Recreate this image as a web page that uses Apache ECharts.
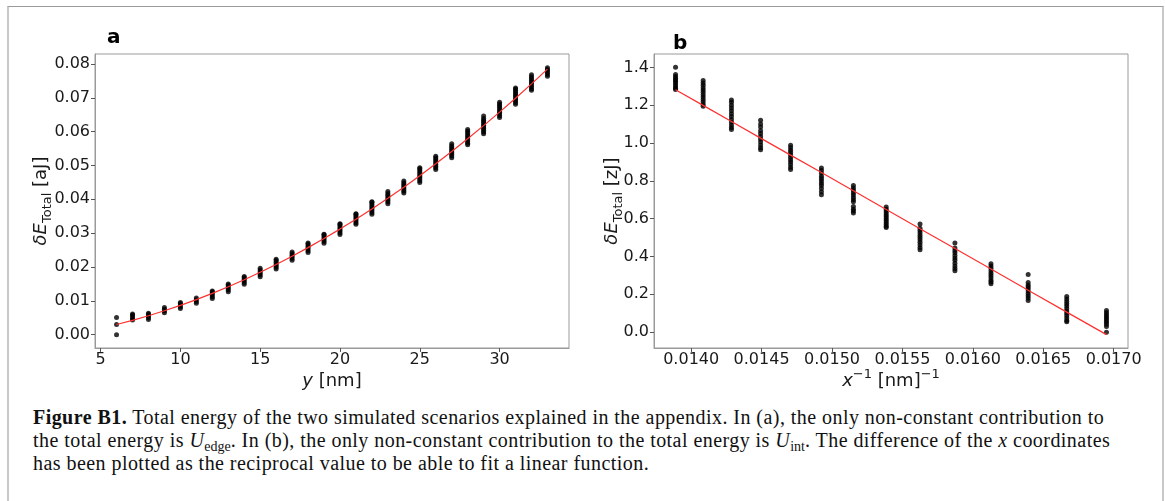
<!DOCTYPE html>
<html>
<head>
<meta charset="utf-8">
<script src="https://cdn.jsdelivr.net/npm/echarts@6/dist/echarts.min.js"></script>
<style>
  html, body { margin: 0; padding: 0; background: #fff; }
  #wrap { position: relative; width: 1165px; height: 501px; overflow: hidden; }
  #frame { position: absolute; left: 7px; top: 6px; width: 1153px; height: 520px;
           border-top: 1px solid #9a9a9a; border-left: 2px solid #c8c8c8; border-right: 2px solid #c8c8c8; }
  #chart { position: absolute; left: 0; top: 0; width: 1165px; height: 400px; }
  #caption { position: absolute; left: 33px; top: 406px; width: 1125px;
             font-family: "Liberation Serif", "DejaVu Serif", serif; font-size: 20px; line-height: 23px;
             letter-spacing: 0.45px; color: #111; white-space: nowrap; }
  #caption b { font-weight: bold; }
  #caption sub { font-size: 14px; vertical-align: -4px; line-height: 0; letter-spacing: 0; }
</style>
</head>
<body>
<div id="wrap">
  <div id="frame"></div>
  <div id="chart"></div>
  <div id="caption"><b>Figure B1.</b> Total energy of the two simulated scenarios explained in the appendix. In (a), the only non-constant contribution to<br>the total energy is <i>U</i><sub>edge</sub>. In (b), the only non-constant contribution to the total energy is <i>U</i><sub>int</sub>. The difference of the <i>x</i> coordinates<br>has been plotted as the reciprocal value to be able to fit a linear function.</div>
</div>
<script>
// ---------- Panel a data ----------
const aX = [6,7,8,9,10,11,12,13,14,15,16,17,18,19,20,21,22,23,24,25,26,27,28,29,30,31,32,33];
const aPoints = [
  [0.0000,0.0030,0.0051],
  [0.0043,0.0048,0.0053,0.0058,0.0061],
  [0.0045,0.0050,0.0055,0.0060,0.0063],
  [0.0065,0.0070,0.0075,0.0080],
  [0.0077,0.0082,0.0087,0.0092,0.0095],
  [0.0093,0.0098,0.0103,0.0108],
  [0.0107,0.0112,0.0117,0.0122,0.0127,0.0129],
  [0.0127,0.0132,0.0137,0.0142,0.0147,0.0150],
  [0.0149,0.0154,0.0159,0.0164,0.0169,0.0172],
  [0.0171,0.0176,0.0181,0.0186,0.0191,0.0196],
  [0.0194,0.0199,0.0204,0.0209,0.0214,0.0219,0.0223],
  [0.0220,0.0225,0.0230,0.0235,0.0240,0.0244],
  [0.0243,0.0248,0.0253,0.0258,0.0263,0.0268,0.0271],
  [0.0270,0.0275,0.0280,0.0285,0.0290,0.0295,0.0297],
  [0.0296,0.0301,0.0306,0.0311,0.0316,0.0321,0.0326,0.0328],
  [0.0326,0.0331,0.0336,0.0341,0.0346,0.0351,0.0356,0.0357],
  [0.0356,0.0361,0.0366,0.0371,0.0376,0.0381,0.0386,0.0391,0.0393],
  [0.0387,0.0392,0.0397,0.0402,0.0407,0.0412,0.0417,0.0423],
  [0.0419,0.0424,0.0429,0.0434,0.0439,0.0444,0.0449,0.0454],
  [0.0450,0.0455,0.0460,0.0465,0.0470,0.0475,0.0480,0.0485,0.0490,0.0493],
  [0.0488,0.0493,0.0498,0.0503,0.0508,0.0513,0.0518,0.0523,0.0527],
  [0.0523,0.0528,0.0533,0.0538,0.0543,0.0548,0.0553,0.0558,0.0564],
  [0.0561,0.0566,0.0571,0.0576,0.0581,0.0586,0.0591,0.0596,0.0601,0.0606],
  [0.0594,0.0599,0.0604,0.0609,0.0614,0.0619,0.0624,0.0629,0.0634,0.0639,0.0646],
  [0.0642,0.0647,0.0652,0.0657,0.0662,0.0667,0.0672,0.0677,0.0682,0.0687],
  [0.0681,0.0686,0.0691,0.0696,0.0701,0.0706,0.0711,0.0716,0.0721,0.0726,0.0729],
  [0.0722,0.0727,0.0732,0.0737,0.0742,0.0747,0.0752,0.0757,0.0762,0.0768],
  [0.0764,0.0769,0.0774,0.0779,0.0784,0.0789]
];
const aFit = [0.0030,0.00423,0.00558,0.00706,0.00865,0.01036,0.0122,0.01415,0.01622,0.01842,0.02073,0.02317,0.02572,0.0284,0.03119,0.03411,0.03715,0.0403,0.04358,0.04698,0.0505,0.05413,0.05789,0.06177,0.06577,0.06989,0.07413,0.07849];
const aXTicks = [5,10,15,20,25,30];
const aYTicks = [0.00,0.01,0.02,0.03,0.04,0.05,0.06,0.07,0.08];

// ---------- Panel b data ----------
const bX = [0.013889,0.014085,0.014286,0.014493,0.014706,0.014925,0.015152,0.015385,0.015625,0.015873,0.016129,0.016393,0.016667,0.016949];
const bPoints = [
  [1.400,1.362,1.352,1.343,1.335,1.326,1.318,1.308,1.298,1.290,1.283],
  [1.330,1.318,1.305,1.292,1.280,1.268,1.255,1.243,1.230,1.218,1.205,1.195],
  [1.228,1.215,1.200,1.185,1.170,1.155,1.140,1.125,1.110,1.095,1.082,1.071],
  [1.120,1.100,1.085,1.065,1.050,1.035,1.020,1.005,0.990,0.975,0.965],
  [0.988,0.975,0.962,0.950,0.938,0.925,0.912,0.900,0.887,0.872,0.860],
  [0.868,0.855,0.840,0.825,0.812,0.800,0.787,0.775,0.760,0.742,0.727],
  [0.775,0.762,0.750,0.737,0.725,0.712,0.700,0.690,0.665,0.650,0.640,0.630],
  [0.662,0.650,0.640,0.630,0.620,0.610,0.600,0.590,0.580,0.570,0.560,0.553],
  [0.572,0.550,0.538,0.525,0.512,0.500,0.488,0.475,0.462,0.448,0.436],
  [0.472,0.445,0.432,0.420,0.405,0.392,0.380,0.365,0.350,0.337,0.325],
  [0.362,0.350,0.338,0.325,0.312,0.300,0.288,0.275,0.265,0.256],
  [0.305,0.262,0.250,0.240,0.230,0.218,0.205,0.192,0.180,0.168],
  [0.188,0.175,0.162,0.150,0.138,0.125,0.112,0.100,0.088,0.075,0.062,0.055],
  [0.115,0.103,0.092,0.082,0.072,0.062,0.052,0.042,0.030,0.000]
];
const bFit = [1.282,1.199,1.114,1.026,0.936,0.844,0.748,0.649,0.547,0.442,0.334,0.222,0.106,-0.013];
const bXTicks = [0.0140,0.0145,0.0150,0.0155,0.0160,0.0165,0.0170];
const bYTicks = [0.0,0.2,0.4,0.6,0.8,1.0,1.2,1.4];

// ---------- build ----------
function scatterData(xs, pts) {
  const out = [];
  xs.forEach((x, i) => pts[i].forEach(v => out.push([x, v])));
  return out;
}
function lineData(xs, ys) { return xs.map((x, i) => [x, ys[i]]); }

const FONT = 'DejaVu Sans';
const TXT = '#1a1a1a';
const SPINE = '#9a9a9a';
const nameRich = {
  i: { fontFamily: FONT, fontSize: 18, fontStyle: 'italic', color: TXT, lineHeight: 26 },
  n: { fontFamily: FONT, fontSize: 18, color: TXT, lineHeight: 26 },
  s: { fontFamily: FONT, fontSize: 13, color: TXT, lineHeight: 13, verticalAlign: 'bottom' },
  p: { fontFamily: FONT, fontSize: 13, color: TXT, lineHeight: 13, verticalAlign: 'top' }
};

function xAxisCfg(grid, min, max, ticks, fmt, name) {
  return {
    gridIndex: grid, type: 'value', min: min, max: max,
    axisLine: { show: true, onZero: false, lineStyle: { color: SPINE, width: 1 } },
    axisTick: { show: true, customValues: ticks, length: 4, lineStyle: { color: '#555' } },
    axisLabel: { customValues: ticks, formatter: fmt, fontFamily: FONT, fontSize: 16, color: TXT, margin: 4 },
    splitLine: { show: false },
    name: name, nameLocation: 'middle', nameGap: 20, nameMoveOverlap: false,
    nameTextStyle: { rich: nameRich }
  };
}
function yAxisCfg(grid, min, max, ticks, fmt, name, gap) {
  return {
    gridIndex: grid, type: 'value', min: min, max: max,
    axisLine: { show: true, onZero: false, lineStyle: { color: SPINE, width: 1 } },
    axisTick: { show: true, customValues: ticks, length: 4, lineStyle: { color: '#555' } },
    axisLabel: { customValues: ticks, formatter: fmt, fontFamily: FONT, fontSize: 16, color: TXT, margin: 5 },
    splitLine: { show: false },
    name: name, nameLocation: 'middle', nameGap: gap, nameRotate: 90, nameMoveOverlap: false,
    nameTextStyle: { rich: nameRich }
  };
}

const chart = echarts.init(document.getElementById('chart'), null, { renderer: 'canvas' });
chart.setOption({
  animation: false,
  backgroundColor: 'transparent',
  grid: [
    { left: 95, top: 54, width: 474, height: 294, show: true, borderColor: SPINE, borderWidth: 1, containLabel: false },
    { left: 654, top: 54, width: 474, height: 294, show: true, borderColor: SPINE, borderWidth: 1, containLabel: false }
  ],
  xAxis: [
    xAxisCfg(0, 4.65, 34.35, aXTicks, v => String(Math.round(v)), '{i|y}{n| [nm]}'),
    xAxisCfg(1, 0.013736, 0.017102, bXTicks, v => v.toFixed(4), '{i|x}{p|−1}{n| [nm]}{p|−1}')
  ],
  yAxis: [
    yAxisCfg(0, -0.00395, 0.08295, aYTicks, v => v.toFixed(2), '{i|δE}{s|Total}{n| [aJ]}', 41),
    yAxisCfg(1, -0.0837, 1.4707, bYTicks, v => v.toFixed(1), '{i|δE}{s|Total}{n| [zJ]}', 29)
  ],
  graphic: [
    { type: 'text', left: 107, top: 28, style: { text: 'a', font: 'bold 20px "DejaVu Sans"', fill: '#000' } },
    { type: 'text', left: 673, top: 34, style: { text: 'b', font: 'bold 20px "DejaVu Sans"', fill: '#000' } }
  ],
  series: [
    { type: 'scatter', xAxisIndex: 0, yAxisIndex: 0, data: scatterData(aX, aPoints),
      symbol: 'circle', symbolSize: 5, itemStyle: { color: '#000' }, z: 2 },
    { type: 'line', xAxisIndex: 0, yAxisIndex: 0, data: lineData(aX, aFit), showSymbol: false,
      lineStyle: { color: '#ff3030', width: 1.2 }, z: 3 },
    { type: 'scatter', xAxisIndex: 1, yAxisIndex: 1, data: scatterData(bX, bPoints),
      symbol: 'circle', symbolSize: 5, itemStyle: { color: '#000' }, z: 2 },
    { type: 'line', xAxisIndex: 1, yAxisIndex: 1, data: lineData(bX, bFit), showSymbol: false,
      lineStyle: { color: '#ff3030', width: 1.2 }, z: 3 }
  ]
});
</script>
</body>
</html>
